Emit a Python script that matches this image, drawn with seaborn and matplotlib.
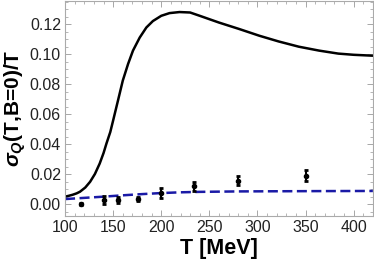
import numpy as np
import pandas as pd
import matplotlib
matplotlib.use("Agg")
import matplotlib.pyplot as plt
import seaborn as sns
from matplotlib.ticker import MultipleLocator, FormatStrFormatter

# black curve: sigma_Q/T model
T_model = [100, 104, 108, 112, 115.5, 121, 126, 131, 136, 140, 143, 147, 150, 155, 160,
           165.5, 170.6, 177.6, 184.5, 191.3, 200, 208.6, 219, 230, 240, 260, 281, 302,
           322, 343, 364, 384, 400, 420]
sigma_model = [0.0049, 0.0055, 0.0062, 0.0071, 0.0082, 0.011, 0.0148, 0.020, 0.027, 0.034,
               0.0403, 0.048, 0.0558, 0.069, 0.0823, 0.0934, 0.1023, 0.111, 0.1177, 0.122,
               0.1255, 0.1273, 0.128, 0.1277, 0.1255, 0.121, 0.1167, 0.1122, 0.1084, 0.1049,
               0.1023, 0.1003, 0.0995, 0.0989]

# blue dashed curve
T_dash = [100, 120, 140, 160, 180, 200, 220, 240, 280, 320, 360, 420]
sigma_dash = [0.0033, 0.0041, 0.0049, 0.0058, 0.0066, 0.0073, 0.0078, 0.0081, 0.0084, 0.0085,
              0.0086, 0.0087]

# lattice points with errors
T_lat = [117, 140, 155, 176, 200, 234, 280, 350]
sigma_lat = [0.0, 0.0027, 0.003, 0.0035, 0.0072, 0.012, 0.0155, 0.019]
err_lat = [0.0005, 0.0025, 0.002, 0.0015, 0.0033, 0.003, 0.003, 0.0035]

plt.rcParams['font.family'] = ['Liberation Sans', 'DejaVu Sans']
plt.rcParams['mathtext.fontset'] = 'custom'
plt.rcParams['mathtext.rm'] = 'Liberation Sans:bold'
plt.rcParams['mathtext.it'] = 'Liberation Sans:italic:bold'
plt.rcParams['mathtext.bf'] = 'Liberation Sans:bold'

fig = plt.figure(figsize=(3.74, 2.69), dpi=100)
ax = fig.add_axes([0.174, 0.197, 0.823, 0.80])

model = pd.DataFrame({"T": T_model, "sigma": sigma_model})
dash = pd.DataFrame({"T": T_dash, "sigma": sigma_dash})
sns.lineplot(data=model, x="T", y="sigma", color="black", lw=1.8, ax=ax)
sns.lineplot(data=dash, x="T", y="sigma", color="#1a1aa6", lw=1.8, ax=ax,
             linestyle=(0, (4, 1.8)))
ax.errorbar(T_lat, sigma_lat, yerr=err_lat, fmt="o", color="black", ms=3,
            elinewidth=1.5, capsize=1.2, capthick=2)

ax.set_xlim(100, 420)
ax.set_ylim(-0.008, 0.1355)
ax.xaxis.set_major_locator(MultipleLocator(50))
ax.xaxis.set_minor_locator(MultipleLocator(10))
ax.yaxis.set_major_locator(MultipleLocator(0.02))
ax.yaxis.set_minor_locator(MultipleLocator(0.005))
ax.yaxis.set_major_formatter(FormatStrFormatter("%.2f"))
ax.tick_params(which="both", direction="in", top=True, right=True, color="#999999",
               labelsize=11.5, labelcolor="#222222")
ax.tick_params(which="major", length=4, width=0.6, pad=3)
ax.tick_params(which="minor", length=2, width=0.5)
for s in ax.spines.values():
    s.set_color("#aaaaaa")
    s.set_linewidth(0.8)

ax.set_xlabel("T [MeV]", fontsize=15.5, fontweight="bold", labelpad=2)
ax.set_ylabel(r"$\mathit{\sigma}_{\mathit{Q}}$(T,B=0)/T", fontsize=15,
              fontweight="bold", labelpad=1)

fig.savefig("out.png", dpi=100)
